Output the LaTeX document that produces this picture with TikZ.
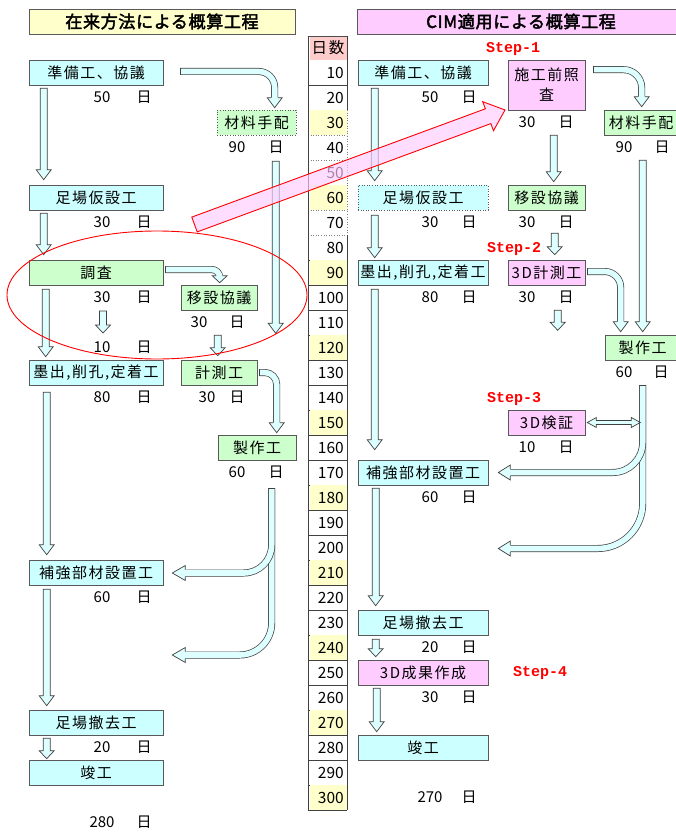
\documentclass[tikz,border=0pt]{standalone}
\usepackage{fontspec}
\setmainfont{Noto Sans CJK JP}
\newfontfamily\jpf{Noto Sans CJK JP}[LetterSpace=10]
\newfontfamily\jpt{Noto Sans CJK JP}[FakeBold=2.5,LetterSpace=4]
\newfontfamily\stepf{Liberation Mono}
\usetikzlibrary{calc}
\definecolor{cbox}{HTML}{CCFFFF}
\definecolor{gbox}{HTML}{CCFFCC}
\definecolor{pbox}{HTML}{FFCCFF}
\definecolor{ybox}{HTML}{FFFFCC}
\definecolor{hdr}{HTML}{FFCCCC}
\definecolor{afill}{HTML}{DDFFFF}
\definecolor{aline}{HTML}{404040}
\tikzset{
 box/.style={draw=black!65, line width=0.6pt, inner sep=0pt, font=\jpf\fontsize{15}{17}\selectfont},
 lbl/.style={inner sep=0pt, font=\fontsize{15}{17}\selectfont},
 daynum/.style={inner sep=0pt, anchor=east, font=\fontsize{15.5}{17}\selectfont},
 stp/.style={text=red, inner sep=0pt, font=\stepf\bfseries\fontsize{15}{17}\selectfont},
 blk/.style={draw=aline, fill=afill, line width=0.7pt, line join=miter},
 dbl/.style={draw=aline, line width=0.7pt, double=afill, double distance=5.6pt},
 aout/.style={draw=aline, line width=0.7pt, line join=miter},
}
% box: [opts]{name}{x1}{y1}{x2}{y2}{fill}{text}
\newcommand\bx[8][]{\node[box,fill=#7,minimum width={(#5-#3)*1pt},minimum height={(#6-#4)*1pt},#1] (#2) at ({(#3+#5)/2},{(#4+#6)/2}) {#8};}
% label: {name}{xnum}{xday}{y}{num}
\newcommand\lb[5]{\node[lbl] (#1) at (#2,#4) {#5}; \node[lbl] (#1-d) at (#3,#4) {日};}
% vertical block arrow: [headlen]{start}{target}{dy}
\newcommand\varr[4][10]{%
 \path #2 coordinate (vs);
 \path (vs |- #3) ++(0,#4) coordinate (vt);
 \filldraw[blk] ($(vs)+(-3.5,0)$) -- ($(vs)+(3.5,0)$) -- ($(vt)+(3.5,-#1)$) -- ($(vt)+(7.5,-#1)$) -- (vt) -- ($(vt)+(-7.5,-#1)$) -- ($(vt)+(-3.5,-#1)$) -- cycle;}
\newcommand\headD[2][10]{\path #2 coordinate (ht);
 \fill[afill] ($(ht)+(-7.5,-#1)$) -- (ht) -- ($(ht)+(7.5,-#1)$) -- cycle;
 \draw[aout] ($(ht)+(-3.5,-#1)$) -- ($(ht)+(-7.5,-#1)$) -- (ht) -- ($(ht)+(7.5,-#1)$) -- ($(ht)+(3.5,-#1)$);}
\newcommand\headL[2][10]{\path #2 coordinate (ht);
 \fill[afill] ($(ht)+(#1,-7.5)$) -- (ht) -- ($(ht)+(#1,7.5)$) -- cycle;
 \draw[aout] ($(ht)+(#1,-3.5)$) -- ($(ht)+(#1,-7.5)$) -- (ht) -- ($(ht)+(#1,7.5)$) -- ($(ht)+(#1,3.5)$);}
\newcommand\capH[1]{\draw[aout] ($#1+(-3.5,0)$) -- ($#1+(3.5,0)$);}
\newcommand\capV[1]{\draw[aout] ($#1+(0,-3.5)$) -- ($#1+(0,3.5)$);}

\begin{document}
\begin{tikzpicture}[x=1pt,y=-1pt]
\useasboundingbox (0,0) rectangle (675,832);
\fill[white] (0,0) rectangle (675,832);

% ---------- titles
\bx[font=\jpt\fontsize{17}{19}\selectfont]{TL}{29}{9}{295}{34}{ybox}{在来方法による概算工程}
\bx[font=\jpt\fontsize{17}{19}\selectfont]{TR}{357}{9}{685}{34}{pbox}{CIM適用による概算工程}

% ---------- day column
\fill[hdr] (310,37) rectangle (347,60);
\node[font=\jpf\fontsize{15.5}{17}\selectfont, inner sep=0pt] (DH) at (328,48) {日数};
\draw[black!70, line width=0.6pt] (308,36) -- (347,36);
\foreach \i in {1,...,30}{
  \pgfmathtruncatemacro\v{10*\i}
  \pgfmathsetmacro\yt{60+25*(\i-1)}
  \pgfmathtruncatemacro\m{mod(\i,3)}
  \ifnum\m=0 \fill[ybox] (310,\yt) rectangle (347,\yt+25); \fi
  \node[daynum] (D\i) at (344,\yt+12.5) {\v};
  \ifnum\i>1 \ifnum\i<8
    \draw[black!50, line width=0.6pt, dotted] (308,\yt+25) -- (347,\yt+25);
  \else
    \draw[black!75, line width=0.6pt] (308,\yt+25) -- (347,\yt+25);
  \fi \else
    \draw[black!75, line width=0.6pt] (308,\yt+25) -- (347,\yt+25);
  \fi
}
\draw[black!75, line width=0.6pt] (308,36) -- (308,810);
\draw[black!75, line width=0.6pt] (347,36) -- (347,110);
\draw[black!50, line width=0.6pt, dotted] (347,110) -- (347,235);
\draw[black!75, line width=0.6pt] (347,235) -- (347,810);

% ---------- left boxes
\bx{LA}{29}{60}{163}{85}{cbox}{準備工、協議}
\bx{LB}{29}{185}{163}{210}{cbox}{足場仮設工}
\bx{LC}{29}{260}{163}{285}{gbox}{調査}
\bx{LD}{29}{360}{163}{385}{cbox}{墨出,削孔,定着工}
\bx{LE}{29}{560}{163}{585}{cbox}{補強部材設置工}
\bx{LF}{29}{710}{163}{735}{cbox}{足場撤去工}
\bx{LG}{29}{760}{163}{785}{cbox}{竣工}
\bx[dotted]{LM}{217}{110}{296}{135}{gbox}{材料手配}
\bx{LI}{181}{285}{257}{310}{gbox}{移設協議}
\bx{LK}{181}{360}{257}{385}{gbox}{計測工}
\bx{LS}{218}{435}{296}{460}{gbox}{製作工}

% ---------- right boxes
\bx{RA}{358}{60}{488}{85}{cbox}{準備工、協議}
\bx[dotted]{RB}{358}{185}{488}{210}{cbox}{足場仮設工}
\bx{RD}{358}{260}{488}{285}{cbox}{墨出,削孔,定着工}
\bx{RE}{358}{460}{488}{485}{cbox}{補強部材設置工}
\bx{RF}{358}{610}{488}{635}{cbox}{足場撤去工}
\bx{RH}{358}{660}{488}{685}{pbox}{3D成果作成}
\bx{RG}{358}{735}{488}{760}{cbox}{竣工}
\bx[align=center,font=\jpf\fontsize{15}{20}\selectfont]{RP}{508}{60}{585}{110}{pbox}{施工前照\\査}
\bx{RI}{508}{185}{585}{210}{gbox}{移設協議}
\bx{RK}{508}{260}{585}{285}{pbox}{3D計測工}
\bx{RV}{508}{410}{585}{435}{pbox}{3D検証}
\bx{RM}{604}{110}{678}{135}{gbox}{材料手配}
\bx{RS}{605}{335}{680}{360}{gbox}{製作工}

% ---------- duration labels
\lb{LAd}{102}{144}{97}{50}
\lb{LBd}{102}{144}{222}{30}
\lb{LCd}{102}{144}{297}{30}
\lb{LCx}{102}{144}{347}{10}
\lb{LDd}{102}{144}{397}{80}
\lb{LEd}{102}{144}{597}{60}
\lb{LFd}{102}{144}{747}{20}
\lb{LT}{102}{144}{822}{280}
\lb{LMd}{237}{276}{147}{90}
\lb{LId}{199}{237}{322}{30}
\lb{LKd}{207}{237}{397}{30}
\lb{LSd}{237}{276}{472}{60}
\lb{RAd}{430}{469}{97}{50}
\lb{RBd}{430}{469}{222}{30}
\lb{RDd}{430}{469}{297}{80}
\lb{REd}{430}{469}{497}{60}
\lb{RFd}{430}{469}{647}{20}
\lb{RHd}{430}{469}{697}{30}
\lb{RT}{430}{469}{797}{270}
\lb{RPd}{527}{566}{122}{30}
\lb{RId}{527}{566}{222}{30}
\lb{RKd}{527}{566}{297}{30}
\lb{RVd}{527}{566}{447}{10}
\lb{RMd}{624}{662}{147}{90}
\lb{RSd}{624}{661}{372}{60}

% ---------- steps
\node[stp] (S1) at (513,49) {Step-1};
\node[stp] (S2) at (514,249) {Step-2};
\node[stp] (S3) at (514,399) {Step-3};
\node[stp] (S4) at (540,673) {Step-4};

% ---------- straight arrows, left
\varr{($(LA.south west)+(15,3)$)}{LB.north}{-5}
\varr{($(LB.south west)+(15,3)$)}{LC.north}{-5}
\varr{($(LC.south west)+(17,4)$)}{LD.north}{-3}
\varr[8]{($(LCd)+(1,14)$)}{LCx}{-14}
\varr{($(LD.south west)+(18,7)$)}{LE.north}{-5}
\varr{($(LE.south west)+(18,4)$)}{LF.north}{-4}
\varr[8]{($(LF.south west)+(18,3)$)}{LG.north}{-1}
\varr{($(LM.south west)+(59,26)$)}{LI.south}{23}
\varr[8]{($(LI.south west)+(37,25)$)}{LK.north}{-4}
% ---------- straight arrows, right
\varr{($(RA.south west)+(17,3)$)}{RB.north}{-4}
\varr{($(RB.south west)+(17,5)$)}{RD.north}{-2}
\varr{($(RD.south west)+(17,4)$)}{RE.north}{-10}
\varr{($(RE.south west)+(18,3)$)}{RF.north}{-4}
\varr[8]{($(RF.south west)+(18,4)$)}{RH.north}{-3}
\varr{($(RH.south west)+(19,3)$)}{RG.north}{-3}
\varr{($(RP.south west)+(46,25)$)}{RI.north}{-3}
\varr[8]{($(RI.south west)+(47,23)$)}{RK.north}{-5}
\varr[8]{($(RK.south west)+(50,25)$)}{RK.south}{45}
\varr{($(RM.south west)+(39,25)$)}{RS.north}{-3}

% ---------- bent arrows
\path ($(LA.east)+(17,-1)$) coordinate (b1s) ($(LM.north west)+(58,-2)$) coordinate (b1t);
\draw[dbl, rounded corners=16pt] (b1s) -- (b1s -| b1t) -- ($(b1t)+(0,-9)$);
\capV{(b1s)} \headD{(b1t)}

\path ($(LC.east)+(2,-3)$) coordinate (b2s) ($(LI.north west)+(39,-2)$) coordinate (b2t);
\draw[dbl, rounded corners=8pt] (b2s) -- (b2s -| b2t) -- ($(b2t)+(0,-6)$);
\capV{(b2s)} \headD[7]{(b2t)}

\path ($(LK.east)+(2,0)$) coordinate (b3s) ($(LS.north west)+(59,-2)$) coordinate (b3t);
\draw[dbl, rounded corners=12pt] (b3s) -- (b3s -| b3t) -- ($(b3t)+(0,-9)$);
\capV{(b3s)} \headD{(b3t)}

\path ($(RP.north east)+(8,10)$) coordinate (b4s) ($(RM.north west)+(38,-3)$) coordinate (b4t);
\draw[dbl, rounded corners=18pt] (b4s) -- (b4s -| b4t) -- ($(b4t)+(0,-9)$);
\capV{(b4s)} \headD{(b4t)}

\path ($(RK.east)+(2,-1)$) coordinate (b5s) ($(RS.north west)+(16,-3)$) coordinate (b5t);
\draw[dbl, rounded corners=16pt] (b5s) -- (b5s -| b5t) -- ($(b5t)+(0,-9)$);
\capV{(b5s)} \headD{(b5t)}

% ---------- split arrows (製作工)
\path ($(LS.south west)+(54,28)$) coordinate (s1s) ($(LE.east)+(9,0.5)$) coordinate (s1a) ($(LE.east)+(9,82.5)$) coordinate (s1b);
\draw[dbl, rounded corners=32pt] (s1s) -- (s1s |- s1b) -- ($(s1b)+(12,0)$);
\draw[dbl, rounded corners=28pt] (s1s) -- (s1s |- s1a) -- ($(s1a)+(12,0)$);
\capH{(s1s)} \headL[13]{(s1a)} \headL[13]{(s1b)}

\path ($(RS.south west)+(38,25)$) coordinate (s2s) ($(RE.east)+(10,0)$) coordinate (s2a) ($(RE.east)+(10,76)$) coordinate (s2b);
\draw[dbl, rounded corners=45pt] (s2s) -- (s2s |- s2b) -- ($(s2b)+(11,0)$);
\draw[dbl, rounded corners=30pt] (s2s) -- (s2s |- s2a) -- ($(s2a)+(11,0)$);
\capH{(s2s)} \headL[12]{(s2a)} \headL[12]{(s2b)}

% ---------- double arrow 3D検証
\path ($(RV.east)+(2,0)$) coordinate (dl) ($(RV.east)+(55,0)$) coordinate (dr);
\filldraw[blk] (dl) -- ($(dl)+(9,-5)$) -- ($(dl)+(9,-2)$) -- ($(dr)+(-9,-2)$) -- ($(dr)+(-9,-5)$) -- (dr) -- ($(dr)+(-9,5)$) -- ($(dr)+(-9,2)$) -- ($(dl)+(9,2)$) -- ($(dl)+(9,5)$) -- cycle;

% ---------- big pink arrow
\filldraw[draw=red, line width=0.9pt, fill=pbox, fill opacity=0.65] (191.8,217.1) -- (485.4,108.8) -- (482.7,101.7) -- (505,110) -- (493.5,130.7) -- (490.8,123.6) -- (197.2,231.9) -- cycle;

% ---------- red ellipse
\draw[red, line width=0.9pt] (157,295) ellipse [x radius=150pt, y radius=64pt];
\end{tikzpicture}
\end{document}
